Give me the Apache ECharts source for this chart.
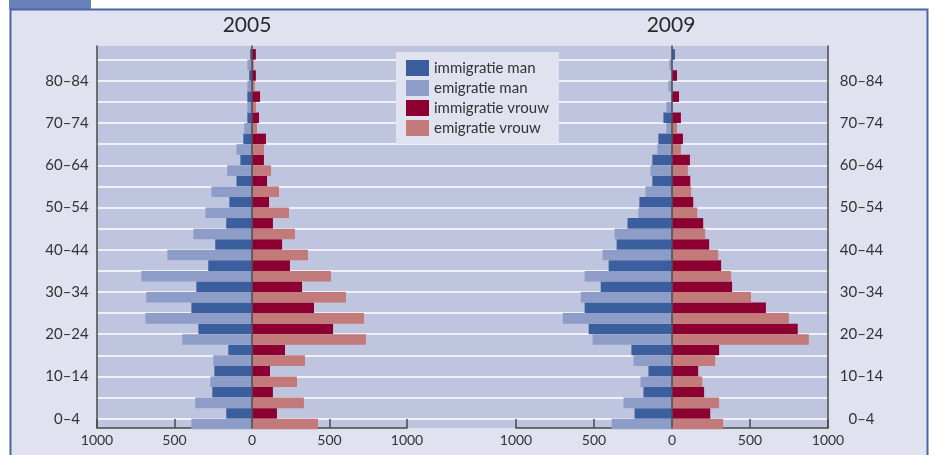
<!DOCTYPE html>
<html lang="nl">
<head>
  <meta charset="utf-8">
</head>
<body style="margin: 0; background: #fff">
  <div id="container" style="width: 936px; height: 455px"></div>

  <script type="text/javascript" src="https://cdn.jsdelivr.net/npm/echarts@6/dist/echarts.min.js"></script>

  <script type="text/javascript">
    var dom = document.getElementById('container');
    var myChart = echarts.init(dom, null, { renderer: 'canvas' });

    // leeftijdsgroepen, van onder naar boven
    const ages = ['0–4', '5–9', '10–14', '15–19', '20–24', '25–29', '30–34', '35–39', '40–44',
      '45–49', '50–54', '55–59', '60–64', '65–69', '70–74', '75–79', '80–84', '85+'];
    const xTicks = [-1000, -500, 0, 500, 1000];

    // 2005
    const immMan2005   = [166, 256, 243, 153, 346, 391, 359, 282, 237, 166, 146, 100, 75, 56, 30, 30, 18, 12];
    const emMan2005    = [391, 366, 269, 250, 450, 688, 682, 714, 546, 378, 300, 262, 160, 100, 50, 30, 30, 30];
    const immVrouw2005 = [161, 135, 116, 213, 523, 400, 323, 245, 194, 135, 110, 97, 77, 90, 45, 52, 25, 25];
    const emVrouw2005  = [426, 335, 290, 342, 735, 723, 606, 510, 361, 277, 239, 174, 123, 77, 32, 25, 18, 12];

    // 2009 (85+ immigratie man staat in het origineel rechts van de nullijn)
    const immMan2009   = [240, 183, 151, 260, 534, 560, 457, 406, 355, 285, 209, 126, 126, 87, 55, 0, 0, -19];
    const emMan2009    = [387, 311, 202, 247, 509, 700, 585, 560, 445, 368, 215, 170, 138, 94, 36, 36, 23, 17];
    const immVrouw2009 = [245, 206, 168, 302, 806, 602, 385, 315, 238, 200, 136, 117, 115, 70, 57, 45, 32, 0];
    const emVrouw2009  = [328, 302, 194, 277, 877, 749, 506, 379, 296, 213, 162, 123, 102, 57, 32, 0, 0, 0];

    const darkBlue = '#3a5e9e';
    const lightBlue = '#8e9cc8';
    const darkRed = '#8b0030';
    const pink = '#c27a7a';
    const axisColor = '#4a4a4a';
    const font = 'Lato';

    function neg(arr) {
      return arr.map(function (v) { return -v; });
    }

    function barSeries(name, data, color, stack, xIdx, yIdx) {
      return {
        name: name,
        type: 'bar',
        stack: stack,
        xAxisIndex: xIdx,
        yAxisIndex: yIdx,
        data: data,
        barGap: 0,
        barCategoryGap: 0,
        clip: false,
        itemStyle: { color: color },
        emphasis: { disabled: true }
      };
    }

    function frameX(idx) {
      return {
        type: 'value',
        gridIndex: idx,
        min: xTicks[0],
        max: xTicks[xTicks.length - 1],
        interval: 500,
        axisLine: { show: true, onZero: false, lineStyle: { color: axisColor, width: 1.5 } },
        axisTick: { show: true, inside: true, length: 9, lineStyle: { color: axisColor, width: 1.5 } },
        axisLabel: {
          margin: 5,
          fontFamily: font,
          fontSize: 14,
          color: '#333',
          formatter: function (v) { return Math.abs(v); }
        },
        splitLine: { show: false }
      };
    }

    function hiddenValueX(idx) {
      return { type: 'value', gridIndex: idx, min: xTicks[0], max: xTicks[xTicks.length - 1], show: false };
    }

    function lineY(idx, position, onZero, color, width) {
      return {
        type: 'category', gridIndex: idx, data: ages, position: position, z: onZero ? 5 : 0,
        axisLine: { show: true, onZero: onZero, lineStyle: { color: color, width: width } },
        axisTick: { show: false }, axisLabel: { show: false }, splitLine: { show: false }
      };
    }

    var option = {
      animation: false,
      backgroundColor: '#fff',
      graphic: [
        { type: 'rect', z: -10, shape: { x: 9, y: 0, width: 82, height: 9 }, style: { fill: '#6a80b8' } },
        { type: 'rect', z: -10, shape: { x: 10.5, y: 9.5, width: 917, height: 460 },
          style: { fill: '#e0e2f0', stroke: '#4666a8', lineWidth: 2 } }
      ],
      title: [
        { text: '2005', left: 247, top: 15, padding: 0, textAlign: 'center',
          textStyle: { fontFamily: font, fontSize: 21, fontWeight: 'normal', color: '#2a2a2a' } },
        { text: '2009', left: 671, top: 15, padding: 0, textAlign: 'center',
          textStyle: { fontFamily: font, fontSize: 21, fontWeight: 'normal', color: '#2a2a2a' } }
      ],
      legend: {
        orient: 'vertical',
        left: 396,
        top: 52,
        padding: [8, 10, 8, 10],
        itemWidth: 23,
        itemHeight: 16,
        itemGap: 4,
        icon: 'rect',
        backgroundColor: '#e0e2f0',
        selectedMode: false,
        textStyle: { fontFamily: font, fontSize: 15, color: '#333' },
        data: ['immigratie man', 'emigratie man', 'immigratie vrouw', 'emigratie vrouw']
      },
      grid: [
        // 0: achtergrondvlak
        { show: true, left: 97, right: 108, top: 46, bottom: 27, backgroundColor: '#c0c5df', borderWidth: 0 },
        // 1: witte lijnen
        { left: 97, right: 108, top: 59.7, bottom: 36.3 },
        // 2,3: assen 2005 / 2009
        { left: 97, width: 310, top: 46, bottom: 27 },
        { left: 516, right: 108, top: 46, bottom: 27 },
        // 4,5: staven 2005 / 2009
        { left: 97, width: 310, top: 59.7, bottom: 36.3 },
        { left: 516, right: 108, top: 59.7, bottom: 36.3 }
      ],
      xAxis: [
        { type: 'value', gridIndex: 0, show: false },
        { type: 'value', gridIndex: 1, show: false },
        frameX(2),
        frameX(3),
        hiddenValueX(4),
        hiddenValueX(5)
      ],
      yAxis: [
        { type: 'category', gridIndex: 0, show: false, data: ages },
        {
          type: 'category', gridIndex: 1, data: ages, boundaryGap: false,
          axisLine: { show: false }, axisTick: { show: false }, axisLabel: { show: false },
          splitLine: { show: true, interval: 0, lineStyle: { color: '#ffffff', width: 1.5 } }
        },
        lineY(2, 'left', false, axisColor, 1.5),   // 2: 2005 linker aslijn
        lineY(2, 'right', true, '#505058', 1.6),   // 3: 2005 nullijn
        lineY(3, 'right', false, axisColor, 1.5),  // 4: 2009 rechter aslijn
        lineY(3, 'left', true, '#505058', 1.6),    // 5: 2009 nullijn
        // 6: staven 2005, labels links
        {
          type: 'category', gridIndex: 4, data: ages, boundaryGap: false, position: 'left',
          axisLine: { show: false }, axisTick: { show: false }, splitLine: { show: false },
          axisLabel: { interval: 1, align: 'center', margin: 30, fontFamily: font, fontSize: 15, color: '#333' }
        },
        // 7: staven 2009, labels rechts
        {
          type: 'category', gridIndex: 5, data: ages, boundaryGap: false, position: 'right',
          axisLine: { show: false }, axisTick: { show: false }, splitLine: { show: false },
          axisLabel: { interval: 1, align: 'center', margin: 33.5, fontFamily: font, fontSize: 15, color: '#333' }
        }
      ],
      series: [
        barSeries('immigratie man', neg(immMan2005), darkBlue, 'imm05', 4, 6),
        barSeries('immigratie vrouw', immVrouw2005, darkRed, 'imm05', 4, 6),
        barSeries('emigratie man', neg(emMan2005), lightBlue, 'em05', 4, 6),
        barSeries('emigratie vrouw', emVrouw2005, pink, 'em05', 4, 6),
        barSeries('immigratie man', neg(immMan2009), darkBlue, 'imm09', 5, 7),
        barSeries('immigratie vrouw', immVrouw2009, darkRed, 'imm09', 5, 7),
        barSeries('emigratie man', neg(emMan2009), lightBlue, 'em09', 5, 7),
        barSeries('emigratie vrouw', emVrouw2009, pink, 'em09', 5, 7)
      ]
    };

    myChart.setOption(option);
    window.addEventListener('resize', myChart.resize);
  </script>
</body>
</html>
